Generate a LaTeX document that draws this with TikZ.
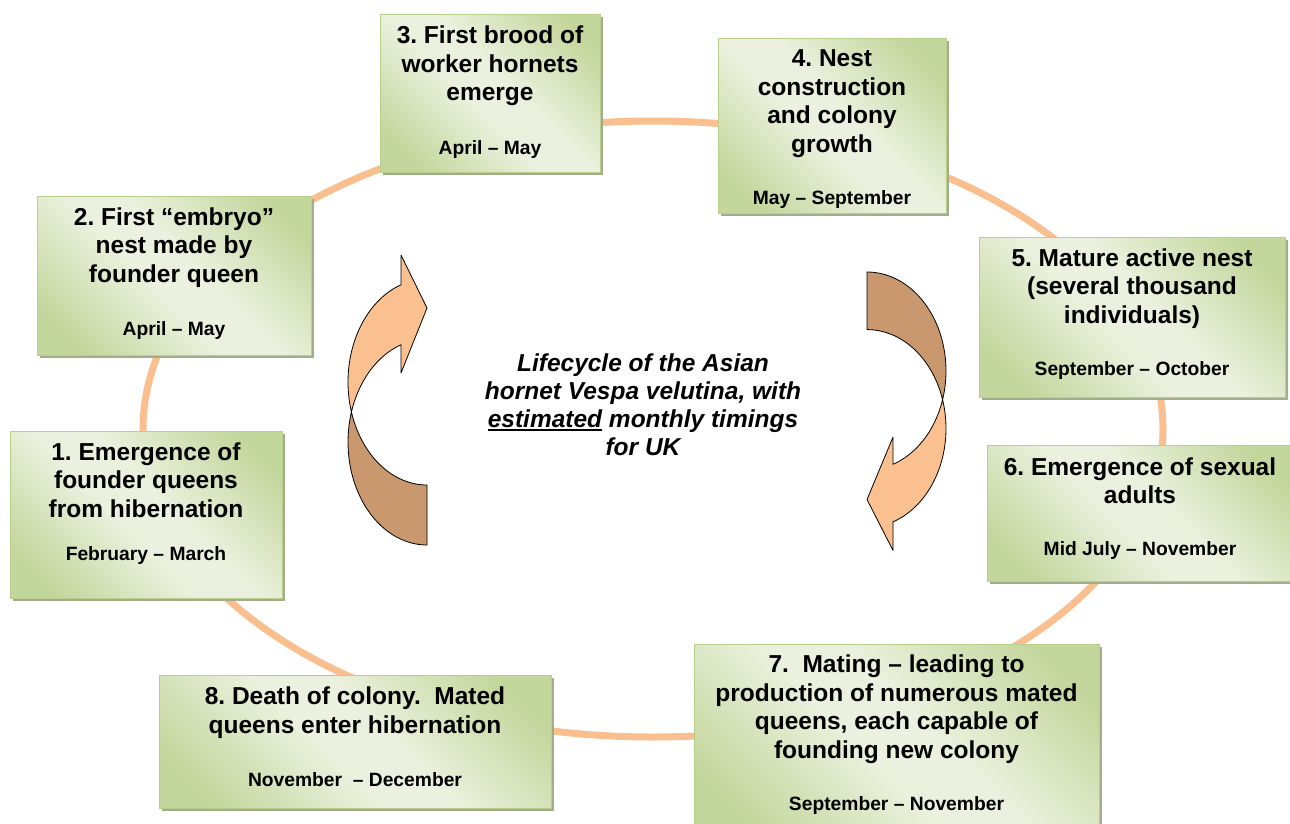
\documentclass[tikz,border=0pt]{standalone}
\usepackage{fontspec}
\setmainfont{Liberation Sans}
\usetikzlibrary{shadows}
\frenchspacing

\definecolor{ringorange}{HTML}{F9BF8F}
\definecolor{cardlight}{HTML}{EBF1DE}
\definecolor{carddark}{HTML}{C3D69B}
\definecolor{cardedge}{HTML}{B9CF8C}
\definecolor{cardshadow}{HTML}{A3AD8C}
\definecolor{arrowfront}{HTML}{FAC090}
\definecolor{arrowback}{HTML}{C9986F}

% diagonal green gradient of the stage cards: dark corners, light middle band
\pgfdeclarehorizontalshading{cardshade}{100bp}{%
  color(0bp)=(carddark); color(22bp)=(carddark); color(45bp)=(cardlight);
  color(55bp)=(cardlight); color(78bp)=(carddark); color(100bp)=(carddark)}

% underline with a heavier rule than \underline
\newcommand\ulword[1]{\setbox0\hbox{#1}\rlap{\rule[-3.2pt]{\wd0}{1.8pt}}\box0\relax}

\tikzset{
  ring/.style={draw=ringorange, line width=7pt},
  card/.style={rectangle, inner sep=0pt, draw=cardedge, line width=0.9pt,
    shading=cardshade, shading angle=45,
    drop shadow={shadow xshift=3pt, shadow yshift=-3pt, fill=cardshadow, opacity=1}},
  title/.style={anchor=north, align=center, inner sep=0pt,
    font=\bfseries\fontsize{24.5}{28.5}\selectfont},
  period/.style={anchor=base, inner sep=0pt, font=\bfseries\fontsize{19.25}{22}\selectfont},
  blurb/.style={anchor=north, align=center, inner sep=0pt,
    font=\bfseries\itshape\fontsize{24.5}{27.8}\selectfont},
  ribbon/.style={draw=black, line width=0.8pt, line join=round},
}

% curved ribbon arrow, drawn in pixel units (y downwards)
\newcommand\ribbonarrow{%
  \filldraw[ribbon, fill=arrowback]
    plot[domain=196.9:90, samples=40] ({427+79*cos(\x)},{442+103*sin(\x)})
    -- (427,485)
    -- plot[domain=90:163.1, samples=40] ({427+79*cos(\x)},{382+103*sin(\x)})
    -- cycle;
  \filldraw[ribbon, fill=arrowfront]
    (401,255) -- (401,285)
    -- plot[domain=250.8:163.1, samples=40] ({427+79*cos(\x)},{382+103*sin(\x)})
    -- plot[domain=196.9:250.8, samples=40] ({427+79*cos(\x)},{442+103*sin(\x)})
    -- (401,373) -- (427,308) -- cycle;
}

\begin{document}
\begin{tikzpicture}[x=1pt, y=-1pt]
  \useasboundingbox (0,0) rectangle (1290,823);
  \clip (0,0) rectangle (1290,823);
  \fill[white] (0,0) rectangle (1290,823);

  % the cycle ring
  \draw[ring] (653,429) ellipse [x radius=510, y radius=308];

  % turning arrows in the middle
  \ribbonarrow
  \begin{scope}[cm={-1,0,0,-0.96,(1294pt,-795.2pt)}]
    \ribbonarrow
  \end{scope}

  % stage cards
  \node[card, minimum width=272pt, minimum height=167pt] (b1) at (146,514.5) {};
  \node[card, minimum width=274pt, minimum height=159pt] (b2) at (174,275.5) {};
  \node[card, minimum width=220pt, minimum height=158pt] (b3) at (490,93) {};
  \node[card, minimum width=228pt, minimum height=175pt] (b4) at (832,125.5) {};
  \node[card, minimum width=306pt, minimum height=160pt] (b5) at (1132,317) {};
  \node[card, minimum width=306pt, minimum height=136pt] (b6) at (1140,513) {};
  \node[card, minimum width=405pt, minimum height=188pt] (b7) at (896.5,738) {};
  \node[card, minimum width=392pt, minimum height=133pt] (b8) at (355,741.5) {};

  % stage titles
  \node[title] (t1) at (146,442.3) {1. Emergence of\\founder queens\\from hibernation};
  \node[title] (t2) at (174,207.3) {2. First “embryo”\\nest made by\\founder queen};
  \node[title] (t3) at (490,25.8) {3. First brood of\\worker hornets\\emerge};
  \node[title] (t4) at (832,49.8) {4. Nest\\construction\\and colony\\growth};
  \node[title] (t5) at (1132,248.3) {5. Mature active nest\\(several thousand\\individuals)};
  \node[title] (t6) at (1140,457.3) {6. Emergence of sexual\\adults};
  \node[title] (t7) at (896.5,654.8) {7.\ \ Mating – leading to\\production of numerous mated\\queens, each capable of\\founding new colony};
  \node[title] (t8) at (355,686.8) {8. Death of colony.\ \ Mated\\queens enter hibernation};

  % months of each stage
  \node[period] (d1) at (146,560) {February – March};
  \node[period] (d2) at (174,335) {April – May};
  \node[period] (d3) at (490,154) {April – May};
  \node[period] (d4) at (832,204) {May – September};
  \node[period] (d5) at (1132,375) {September – October};
  \node[period] (d6) at (1140,555) {Mid July – November};
  \node[period] (d7) at (896.5,810) {September – November};
  \node[period] (d8) at (355,786) {November\ \ – December};

  % caption in the centre
  \node[blurb] (caption) at (643,354) {Lifecycle of the Asian\\hornet Vespa velutina, with\\\ulword{estimated} monthly timings\\for UK};
\end{tikzpicture}
\end{document}
